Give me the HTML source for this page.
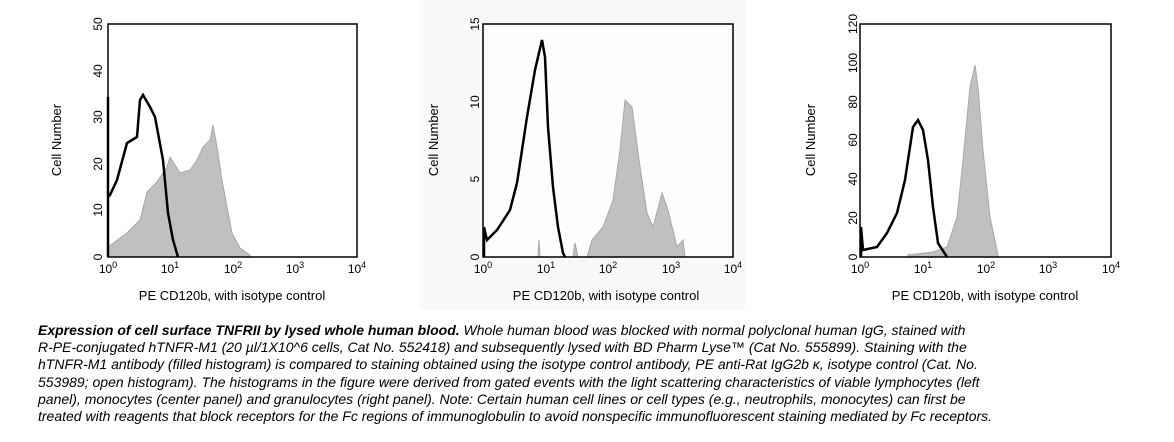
<!DOCTYPE html>
<html><head><meta charset="utf-8"><style>
body{margin:0;background:#fff;width:1174px;height:442px;overflow:hidden;position:relative;font-family:"Liberation Sans",sans-serif}
.cap{position:absolute;left:38px;top:322px;font-size:14px;line-height:17.2px;font-style:italic;white-space:nowrap;color:#000}
</style></head><body>
<svg width="1174" height="320" style="position:absolute;left:0;top:0" font-family="Liberation Sans, sans-serif">
<rect x="420" y="0" width="325" height="310" fill="#f9f9f9"/>
<g font-size="12" fill="#000" text-anchor="middle">
<!-- Panel 1 -->
<polygon points="108,257 108,247 127,233 140,220 147,192 157,182 167,167 170,157 180,173 190,170 197,160 203,147 210,140 213,125 217,147 222,180 227,207 232,233 240,248 250,255 250,257" fill="#c0c0c0" stroke="#a8a8a8" stroke-width="1"/>
<polyline points="108,257 108,97 108,197 110,195 117,180 127,143 137,137 140,100 143,95 150,107 155,117 163,160 168,213 173,240 178,257" fill="none" stroke="#000" stroke-width="2.5"/>
<rect x="108" y="24" width="249" height="233" fill="none" stroke="#000" stroke-width="1.5"/>
<g transform="translate(98,0)">
<text transform="translate(0,257) rotate(-90)" dy="4">0</text>
<text transform="translate(0,210) rotate(-90)" dy="4">10</text>
<text transform="translate(0,164) rotate(-90)" dy="4">20</text>
<text transform="translate(0,117) rotate(-90)" dy="4">30</text>
<text transform="translate(0,71) rotate(-90)" dy="4">40</text>
<text transform="translate(0,24) rotate(-90)" dy="4">50</text>
</g>
<text transform="translate(61,140) rotate(-90)" font-size="13">Cell Number</text>
<text x="108" y="273">10<tspan dy="-5" font-size="9">0</tspan></text>
<text x="170" y="273">10<tspan dy="-5" font-size="9">1</tspan></text>
<text x="233" y="273">10<tspan dy="-5" font-size="9">2</tspan></text>
<text x="295" y="273">10<tspan dy="-5" font-size="9">3</tspan></text>
<text x="357" y="273">10<tspan dy="-5" font-size="9">4</tspan></text>
<text x="232" y="300" font-size="13">PE CD120b, with isotype control</text>

<!-- Panel 2 -->
<rect x="483" y="24" width="250" height="233" fill="#fdfdfd"/>
<polygon points="538,257 539,240 540,257" fill="#c0c0c0" stroke="#a8a8a8"/>
<polygon points="573,257 575,243 578,257" fill="#c0c0c0" stroke="#a8a8a8"/>
<polygon points="587,257 592,240 603,227 613,200 620,150 625,100 632,107 640,167 647,213 653,227 662,193 668,210 677,247 683,240 685,257" fill="#c0c0c0" stroke="#a8a8a8"/>
<polyline points="484,257 484,227 487,240 497,230 510,210 517,183 527,117 535,70 542,40 545,57 548,127 553,187 558,227 563,253 565,257" fill="none" stroke="#000" stroke-width="2.5"/>
<rect x="483" y="24" width="250" height="233" fill="none" stroke="#000" stroke-width="1.5"/>
<g transform="translate(475,0)">
<text transform="translate(0,257) rotate(-90)" dy="4">0</text>
<text transform="translate(0,179) rotate(-90)" dy="4">5</text>
<text transform="translate(0,102) rotate(-90)" dy="4">10</text>
<text transform="translate(0,24) rotate(-90)" dy="4">15</text>
</g>
<text transform="translate(438,140) rotate(-90)" font-size="13">Cell Number</text>
<text x="483" y="273">10<tspan dy="-5" font-size="9">0</tspan></text>
<text x="546" y="273">10<tspan dy="-5" font-size="9">1</tspan></text>
<text x="608" y="273">10<tspan dy="-5" font-size="9">2</tspan></text>
<text x="671" y="273">10<tspan dy="-5" font-size="9">3</tspan></text>
<text x="733" y="273">10<tspan dy="-5" font-size="9">4</tspan></text>
<text x="606" y="300" font-size="13">PE CD120b, with isotype control</text>

<!-- Panel 3 -->
<polygon points="908,257 908,255 933,252 947,247 957,217 963,160 970,87 975,65 978,87 983,150 990,217 998,255 999,257" fill="#c0c0c0" stroke="#a8a8a8"/>
<polyline points="861,257 861,227 863,250 877,247 887,233 897,213 905,180 913,127 918,120 923,130 928,160 933,207 938,243 947,257" fill="none" stroke="#000" stroke-width="2.5"/>
<rect x="860" y="24" width="251" height="233" fill="none" stroke="#000" stroke-width="1.5"/>
<g transform="translate(853,0)">
<text transform="translate(0,257) rotate(-90)" dy="4">0</text>
<text transform="translate(0,218) rotate(-90)" dy="4">20</text>
<text transform="translate(0,179) rotate(-90)" dy="4">40</text>
<text transform="translate(0,140) rotate(-90)" dy="4">60</text>
<text transform="translate(0,102) rotate(-90)" dy="4">80</text>
<text transform="translate(0,63) rotate(-90)" dy="4">100</text>
<text transform="translate(0,24) rotate(-90)" dy="4">120</text>
</g>
<text transform="translate(815,140) rotate(-90)" font-size="13">Cell Number</text>
<text x="860" y="273">10<tspan dy="-5" font-size="9">0</tspan></text>
<text x="923" y="273">10<tspan dy="-5" font-size="9">1</tspan></text>
<text x="986" y="273">10<tspan dy="-5" font-size="9">2</tspan></text>
<text x="1048" y="273">10<tspan dy="-5" font-size="9">3</tspan></text>
<text x="1111" y="273">10<tspan dy="-5" font-size="9">4</tspan></text>
<text x="985" y="300" font-size="13">PE CD120b, with isotype control</text>
</g>
</svg>
<div class="cap"><b>Expression of cell surface TNFRII by lysed whole human blood.</b> Whole human blood was blocked with normal polyclonal human IgG, stained with<br>R-PE-conjugated hTNFR-M1 (20 µl/1X10^6 cells, Cat No. 552418) and subsequently lysed with BD Pharm Lyse™ (Cat No. 555899). Staining with the<br>hTNFR-M1 antibody (filled histogram) is compared to staining obtained using the isotype control antibody, PE anti-Rat IgG2b κ, isotype control (Cat. No.<br>553989; open histogram). The histograms in the figure were derived from gated events with the light scattering characteristics of viable lymphocytes (left<br>panel), monocytes (center panel) and granulocytes (right panel). Note: Certain human cell lines or cell types (e.g., neutrophils, monocytes) can first be<br>treated with reagents that block receptors for the Fc regions of immunoglobulin to avoid nonspecific immunofluorescent staining mediated by Fc receptors.</div>
</body></html>
